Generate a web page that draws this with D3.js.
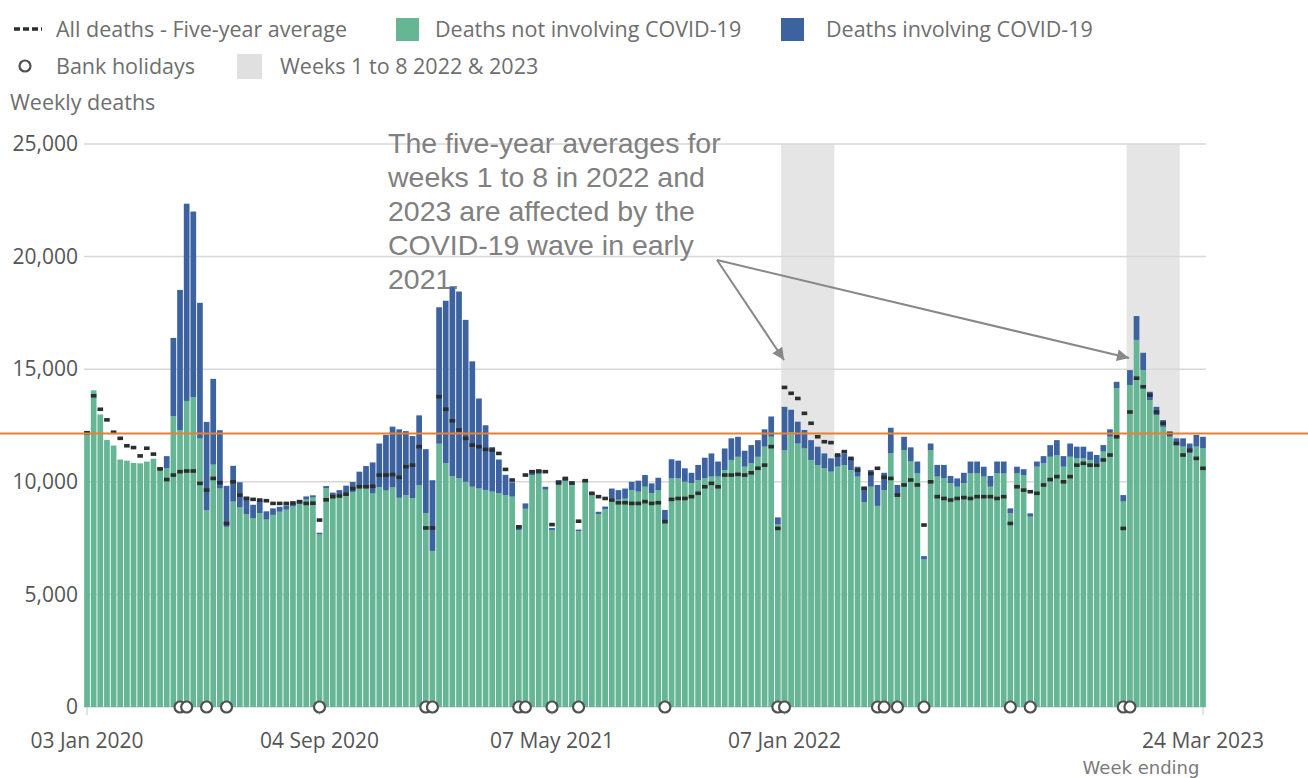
<!DOCTYPE html>
<html>
<head>
<meta charset="utf-8">
<script src="https://cdn.jsdelivr.net/npm/d3@7"></script>
<style>
  body { margin: 0; background: #fff; }
  svg { display: block; font-family: "Open Sans", sans-serif; }
</style>
</head>
<body>
<div id="chart"></div>
<script>
// weeks ending on Fridays, 03 Jan 2020 to 24 Mar 2023
var firstWeek = "2020-01-03",
    weekCount = 169;

var notCovid = [
  12250,14060,12990,11860,11610,10990,10940,10840,10820,10900,11010,10550,10600,
  12910,12300,13590,13760,11920,8730,10760,9700,8000,9120,8860,8560,8370,
  8610,8320,8530,8670,8760,8900,9000,9210,9300,7660,9710,9380,9420,
  9510,9550,9780,9720,9480,9760,9610,9750,9290,9410,9280,9840,8600,
  6930,11690,10820,10250,10150,10000,9780,9700,9630,9560,9490,9410,9340,
  7860,8800,10300,10350,9650,7850,9950,10030,9850,7800,9980,9390,8570,
  8780,9260,9200,9250,9630,9560,9780,9500,9630,8300,10150,10150,10000,
  9930,10080,10150,10230,10230,10520,10970,11110,10670,10820,11110,11560,12000,
  8100,11400,12200,11700,11480,10970,10740,10600,10450,10670,10740,10520,10230,
  9100,9780,8930,9630,11260,9410,11410,10900,10370,6550,11410,10230,10150,
  9930,9780,9930,10370,10370,10230,9780,10370,10370,8600,10370,10300,8450,
  10670,10820,11110,11190,10670,11110,11040,11040,10970,10820,11340,12000,14150,
  9120,14300,16300,14960,13630,12960,12440,12000,11630,11560,11260,11560,11480
];

var covid = [
  0,0,0,0,0,0,0,0,0,0,10,100,540,
  3480,6220,8760,8240,6030,3930,3810,2590,1820,1590,1120,780,610,
  530,370,290,220,190,150,150,140,100,80,100,140,210,
  320,440,670,980,1380,1940,2470,2700,3040,2840,2750,3110,2850,
  3140,6060,7220,8430,8300,7190,5570,4000,2880,1980,1500,900,640,
  200,240,220,170,130,100,130,120,110,80,100,100,100,
  120,440,430,450,370,490,520,430,550,450,850,790,600,
  470,670,920,1030,670,960,960,890,710,810,740,770,900,
  320,1930,1000,970,820,880,820,660,590,520,520,520,440,
  680,740,930,770,1140,450,590,630,530,150,290,520,600,
  330,370,470,530,530,440,480,530,530,220,300,260,150,
  230,320,520,660,470,590,520,520,370,370,290,330,290,
  290,660,1060,770,370,370,300,220,300,370,440,520,520
];

var fiveYearAvg = [
  12180,13820,13220,12750,12200,11930,11600,11520,11150,11490,11230,10570,10100,
  10300,10450,10480,10480,9930,9630,10150,9960,8150,10000,9410,9260,9220,
  9190,9160,9040,9040,9040,9060,9120,9040,9050,8300,9200,9340,9370,
  9450,9700,9780,9780,9800,10300,10300,10320,10200,10670,10740,11560,7950,
  7950,13780,13220,12710,12300,11930,11630,11560,11440,11410,11260,10550,10080,
  8000,10300,10450,10480,10450,8100,9950,10150,9950,8250,10050,9490,9340,
  9260,9190,9070,9070,9040,9040,9120,9040,9070,8230,9220,9260,9260,
  9340,9490,9780,9930,9780,10300,10300,10330,10300,10400,10600,10740,11560,
  7930,14190,13930,13700,13040,12600,12000,11780,11740,11190,11340,11040,10520,
  9710,10370,10600,10200,10150,9410,9860,10080,9860,8080,10000,9340,9260,
  9190,9260,9300,9260,9340,9340,9340,9260,9340,8150,9780,9630,9560,
  9490,9860,10100,10230,10000,10230,10740,10820,10740,10740,10970,11190,12000,
  7930,13100,14600,14220,13850,13100,12600,12150,11700,11190,11400,11040,10600
];

var bankHolidays = [
  "2020-04-10","2020-04-17","2020-05-08","2020-05-29","2020-09-04","2020-12-25",
  "2021-01-01","2021-04-02","2021-04-09","2021-05-07","2021-06-04","2021-09-03",
  "2021-12-31","2022-01-07","2022-04-15","2022-04-22","2022-05-06","2022-06-03",
  "2022-09-02","2022-09-23","2022-12-30","2023-01-06"
];

var shadedWeeks = [["2022-01-07", "2022-02-25"], ["2023-01-06", "2023-02-24"]];
var tickWeeks = ["2020-01-03", "2020-09-04", "2021-05-07", "2022-01-07", "2023-03-24"];
var yTicks = [0, 5000, 10000, 15000, 20000, 25000];
var refLevel = 12150;
var noteLines = ["The five-year averages for", "weeks 1 to 8 in 2022 and",
  "2023 are affected by the", "COVID-19 wave in early", "2021."];

var width = 1308,
    height = 778,
    green = "#66b696",
    blue = "#3c62a0",
    textGrey = "#6e6e6e";

var parse = d3.timeParse("%Y-%m-%d"),
    key = d3.timeFormat("%Y-%m-%d"),
    label = d3.timeFormat("%d %b %Y");

var start = parse(firstWeek);
var weeks = d3.range(weekCount).map(function (i) {
  return key(d3.timeDay.offset(start, 7 * i));
});

var rows = weeks.map(function (w, i) {
  return { week: w, notCovid: notCovid[i], covid: covid[i], avg: fiveYearAvg[i] };
});

var x = d3.scaleBand()
    .domain(weeks)
    .range([83.7, 1206.3])
    .paddingInner(0.14)
    .paddingOuter(0.07);

var step = x.step();
function cx(w) { return x(w) + x.bandwidth() / 2; }

var y = d3.scaleLinear()
    .domain([0, 25000])
    .range([707, 144]);

var svg = d3.select("#chart").append("svg")
    .attr("width", width)
    .attr("height", height);

svg.append("rect").attr("width", width).attr("height", height).attr("fill", "#fff");

// shaded weeks 1 to 8
svg.append("g").selectAll("rect")
    .data(shadedWeeks)
    .enter().append("rect")
    .attr("x", function (d) { return cx(d[0]) - step / 2; })
    .attr("width", function (d) { return cx(d[1]) - cx(d[0]) + step; })
    .attr("y", y(25000))
    .attr("height", y(0) - y(25000))
    .attr("fill", "#e5e5e5");

// gridlines
svg.append("g").selectAll("line")
    .data(yTicks)
    .enter().append("line")
    .attr("x1", 84).attr("x2", 1206)
    .attr("y1", function (d) { return y(d); })
    .attr("y2", function (d) { return y(d); })
    .attr("stroke", "#d8d8d8")
    .attr("stroke-width", 1.5);

// y axis labels
var yAxis = d3.axisLeft(y)
    .tickValues(yTicks)
    .tickFormat(d3.format(","))
    .tickSize(0)
    .tickPadding(0);

svg.append("g")
    .attr("transform", "translate(78,0)")
    .call(yAxis)
    .call(function (g) { g.select(".domain").remove(); })
    .selectAll("text")
    .attr("font-family", "Open Sans")
    .attr("font-size", 21)
    .attr("fill", "#555");

// stacked bars
var stack = d3.stack().keys(["notCovid", "covid"]);
var series = stack(rows);
var colour = { notCovid: green, covid: blue };

svg.append("g").selectAll("g")
    .data(series)
    .enter().append("g")
    .attr("fill", function (d) { return colour[d.key]; })
    .selectAll("rect")
    .data(function (d) { return d; })
    .enter().append("rect")
    .attr("x", function (d) { return x(d.data.week); })
    .attr("width", x.bandwidth())
    .attr("y", function (d) { return y(d[1]); })
    .attr("height", function (d) { return y(d[0]) - y(d[1]); });

// five-year average dashes
svg.append("g").selectAll("rect")
    .data(rows)
    .enter().append("rect")
    .attr("x", function (d) { return cx(d.week) - 2.8; })
    .attr("y", function (d) { return y(d.avg) - 1.8; })
    .attr("width", 5.6)
    .attr("height", 3.6)
    .attr("fill", "#2a2e2c");

// x axis
var xAxis = d3.axisBottom(x)
    .tickValues(tickWeeks)
    .tickFormat(function (w) { return label(parse(w)); })
    .tickSize(8)
    .tickPadding(18.5);

svg.append("g")
    .attr("transform", "translate(0," + y(0) + ")")
    .call(xAxis)
    .call(function (g) { g.select(".domain").remove(); })
    .call(function (g) { g.selectAll("line").attr("stroke", "#c8c8c8"); })
    .selectAll("text")
    .attr("font-family", "Open Sans")
    .attr("font-size", 21)
    .attr("fill", "#555");

svg.append("text")
    .attr("x", 1141).attr("y", 773.5)
    .attr("text-anchor", "middle")
    .attr("font-family", "DejaVu Sans, sans-serif")
    .attr("font-size", 18)
    .attr("fill", "#7a7a7a")
    .text("Week ending");

// bank holidays
svg.append("g").selectAll("circle")
    .data(bankHolidays)
    .enter().append("circle")
    .attr("cx", function (w) { return cx(w); })
    .attr("cy", y(0))
    .attr("r", 5.5)
    .attr("fill", "#fff")
    .attr("stroke", "#505050")
    .attr("stroke-width", 2.2);

// reference level
svg.append("line")
    .attr("x1", 0).attr("x2", width)
    .attr("y1", y(refLevel)).attr("y2", y(refLevel))
    .attr("stroke", "#e8802f")
    .attr("stroke-width", 2);

// annotation
svg.append("g")
    .attr("font-family", "Liberation Sans, Arial, sans-serif")
    .attr("font-size", 28.5)
    .attr("fill", "#808080")
    .selectAll("text")
    .data(noteLines)
    .enter().append("text")
    .attr("x", 388)
    .attr("y", function (d, i) { return 153 + i * 34; })
    .text(function (d) { return d; });

svg.append("defs").append("marker")
    .attr("id", "head")
    .attr("viewBox", "0 0 10 10")
    .attr("refX", 10).attr("refY", 5)
    .attr("markerWidth", 16).attr("markerHeight", 12)
    .attr("markerUnits", "userSpaceOnUse")
    .attr("orient", "auto")
    .append("path")
    .attr("d", "M0,0L10,5L0,10Z")
    .attr("fill", "#888");

var arrowFrom = [717, 260];
var arrowTo = [[784, 360], [1129, 358]];
svg.append("g").selectAll("line")
    .data(arrowTo)
    .enter().append("line")
    .attr("x1", arrowFrom[0]).attr("y1", arrowFrom[1])
    .attr("x2", function (d) { return d[0]; })
    .attr("y2", function (d) { return d[1]; })
    .attr("stroke", "#888")
    .attr("stroke-width", 2)
    .attr("marker-end", "url(#head)");

// legend
var lg = svg.append("g").attr("font-size", 21.5).attr("fill", textGrey);

lg.append("line")
    .attr("x1", 14).attr("x2", 42).attr("y1", 29).attr("y2", 29)
    .attr("stroke", "#2a2e2c").attr("stroke-width", 3.5)
    .attr("stroke-dasharray", "6,3");
lg.append("text").attr("x", 56).attr("y", 29).attr("dy", "0.35em").text("All deaths - Five-year average");

lg.append("rect").attr("x", 396).attr("y", 18).attr("width", 23).attr("height", 23).attr("fill", green);
lg.append("text").attr("x", 435).attr("y", 29).attr("dy", "0.35em").text("Deaths not involving COVID-19");

lg.append("rect").attr("x", 781).attr("y", 18).attr("width", 23).attr("height", 23).attr("fill", blue);
lg.append("text").attr("x", 826).attr("y", 29).attr("dy", "0.35em").text("Deaths involving COVID-19");

lg.append("circle").attr("cx", 25).attr("cy", 66).attr("r", 5.5)
    .attr("fill", "#fff").attr("stroke", "#505050").attr("stroke-width", 2.2);
lg.append("text").attr("x", 56).attr("y", 66).attr("dy", "0.35em").text("Bank holidays");

lg.append("rect").attr("x", 237).attr("y", 54).attr("width", 25).attr("height", 25).attr("fill", "#e0e0e0");
lg.append("text").attr("x", 280).attr("y", 66).attr("dy", "0.35em").text("Weeks 1 to 8 2022 & 2023");

lg.append("text").attr("x", 10).attr("y", 102).attr("dy", "0.35em").text("Weekly deaths");
</script>
</body>
</html>
